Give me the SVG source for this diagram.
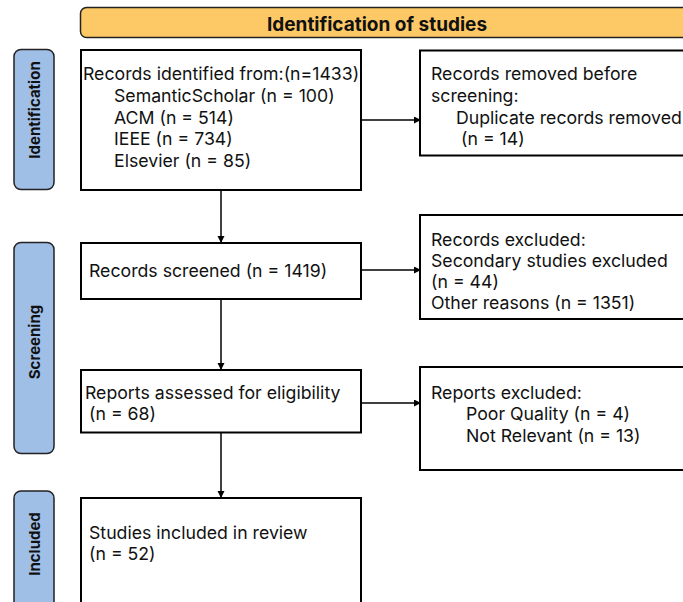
<svg xmlns="http://www.w3.org/2000/svg" width="683" height="602" viewBox="0 0 683 602">
<style>
.box{fill:#fff;stroke:#000;stroke-width:2}
.pill{fill:#a0bfe7;stroke:#222;stroke-width:1.5}
.hdr{fill:#fdc966;stroke:#222;stroke-width:1.5}
.t{font-family:Inter,"Liberation Sans",sans-serif;font-size:17.7px;fill:#111}
.b{font-family:Inter,"Liberation Sans",sans-serif;font-weight:bold;fill:#111}
.c{stroke:#000;stroke-width:1.5;fill:none}
</style>
<defs>
<marker id="ah" markerWidth="8" markerHeight="8" refX="6" refY="3.5" orient="auto" markerUnits="userSpaceOnUse">
<path d="M0,0 L7,3.5 L0,7 z" fill="#000"/>
</marker>
</defs>
<rect width="683" height="602" fill="#fff"/>
<g id="header">
<rect class="hdr" x="80.5" y="7.5" width="640" height="30" rx="6"/>
<text class="b" x="377" y="30.5" font-size="19" text-anchor="middle">Identification of studies</text>
</g>
<g id="lane-identification">
<rect class="pill" x="14" y="49.5" width="40" height="140" rx="7"/>
<text class="b" font-size="15" text-anchor="middle" transform="translate(39.5,110) rotate(-90)">Identification</text>
</g>
<g id="lane-screening">
<rect class="pill" x="14" y="242.5" width="40" height="211" rx="7"/>
<text class="b" font-size="15" text-anchor="middle" transform="translate(39.5,342) rotate(-90)">Screening</text>
</g>
<g id="lane-included">
<rect class="pill" x="14" y="491" width="40" height="130" rx="7"/>
<text class="b" font-size="15" text-anchor="middle" transform="translate(39.5,544) rotate(-90)">Included</text>
</g>
<g id="records-identified">
<rect class="box" x="81" y="50" width="280" height="140"/>
<text class="t" x="83" y="80">Records identified from:(n=1433)</text>
<text class="t" x="114" y="102">SemanticScholar (n = 100)</text>
<text class="t" x="114" y="123.5">ACM (n = 514)</text>
<text class="t" x="114" y="145">IEEE (n = 734)</text>
<text class="t" x="114" y="166.5">Elsevier (n = 85)</text>
</g>
<g id="records-removed">
<rect class="box" x="420" y="50.5" width="300" height="105"/>
<text class="t" x="431" y="80">Records removed before</text>
<text class="t" x="431" y="102">screening:</text>
<text class="t" x="456" y="123.5">Duplicate records removed</text>
<text class="t" x="461" y="145">(n = 14)</text>
</g>
<g id="records-screened">
<rect class="box" x="81" y="243" width="280" height="56"/>
<text class="t" x="89" y="277">Records screened (n = 1419)</text>
</g>
<g id="records-excluded">
<rect class="box" x="420" y="215" width="300" height="104"/>
<text class="t" x="431" y="246">Records excluded:</text>
<text class="t" x="431" y="267">Secondary studies excluded</text>
<text class="t" x="431" y="288">(n = 44)</text>
<text class="t" x="431" y="309">Other reasons (n = 1351)</text>
</g>
<g id="reports-assessed">
<rect class="box" x="81" y="370" width="280" height="62.5"/>
<text class="t" x="85" y="399">Reports assessed for eligibility</text>
<text class="t" x="89" y="420">(n = 68)</text>
</g>
<g id="reports-excluded">
<rect class="box" x="420" y="367" width="300" height="103"/>
<text class="t" x="431" y="399">Reports excluded:</text>
<text class="t" x="466" y="420">Poor Quality (n = 4)</text>
<text class="t" x="466" y="442">Not Relevant (n = 13)</text>
</g>
<g id="studies-included">
<rect class="box" x="81" y="498" width="280" height="130"/>
<text class="t" x="89" y="539">Studies included in review</text>
<text class="t" x="89" y="560">(n = 52)</text>
</g>
<g id="connectors">
<line class="c" x1="361" y1="120" x2="420" y2="120" marker-end="url(#ah)"/>
<line class="c" x1="221" y1="190" x2="221" y2="242" marker-end="url(#ah)"/>
<line class="c" x1="361" y1="270" x2="420" y2="270" marker-end="url(#ah)"/>
<line class="c" x1="221" y1="299" x2="221" y2="369" marker-end="url(#ah)"/>
<line class="c" x1="361" y1="403" x2="420" y2="403" marker-end="url(#ah)"/>
<line class="c" x1="221" y1="432.5" x2="221" y2="497" marker-end="url(#ah)"/>
</g>
</svg>
